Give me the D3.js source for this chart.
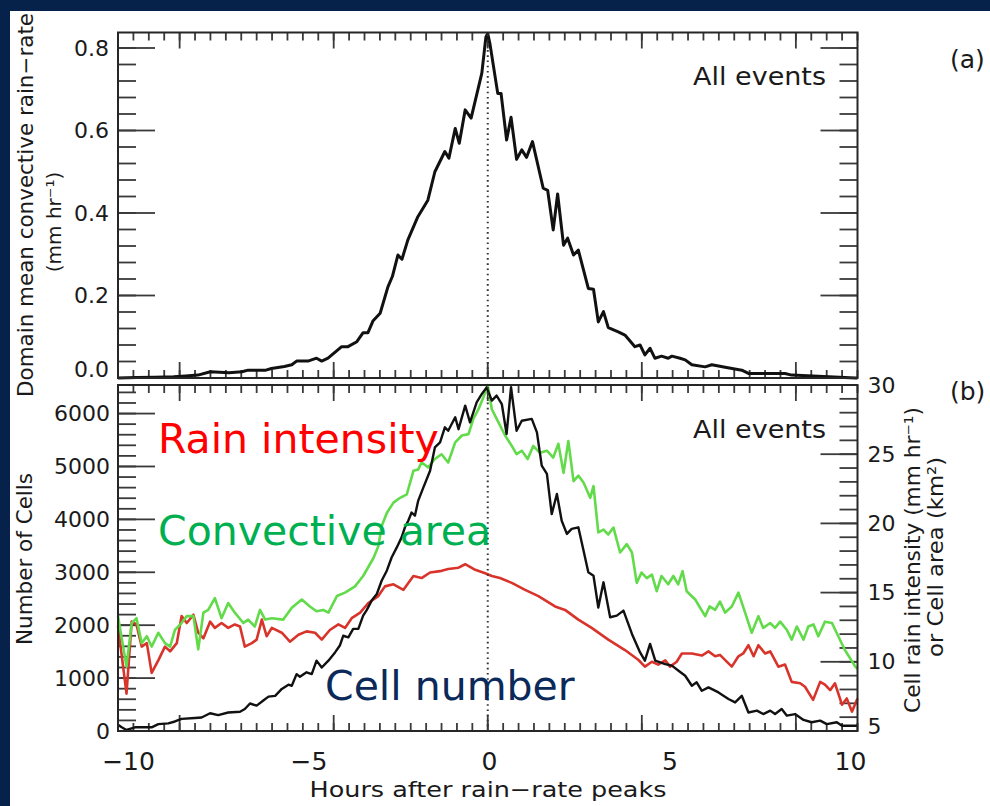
<!DOCTYPE html>
<html>
<head>
<meta charset="utf-8">
<title>Rain-rate composites</title>
<script src="https://cdn.jsdelivr.net/npm/d3@7"></script>
<style>
  body { margin: 0; background: #06214a; }
  text { font-family: "DejaVu Sans", sans-serif; fill: #1a1a1a; }
</style>
</head>
<body>
<svg width="990" height="806"></svg>
<script>
const hourLabels = [-10, -5, 0, 5, 10];
const rateTicks = [0, 0.2, 0.4, 0.6, 0.8];
const cellTicks = [0, 1000, 2000, 3000, 4000, 5000, 6000];
const rainTicks = [5, 10, 15, 20, 25, 30];

// (a) domain mean convective rain-rate, mm/hr
const rateHours = [-10, -9.5, -9, -8.5, -8.17, -7.84, -7.5, -7.0, -6.65, -6.48,
  -6.0, -5.85, -5.5, -5.3, -5.17, -4.86, -4.63, -4.49, -4.32, -3.95,
  -3.78, -3.54, -3.37, -3.24, -3.1, -2.91, -2.7, -2.58, -2.43, -2.32,
  -2.16, -1.89, -1.62, -1.43, -1.16, -1.05, -0.88, -0.77, -0.61, -0.45,
  -0.16, -0.05, 0, 0.06, 0.27, 0.36, 0.51, 0.63, 0.78, 0.92,
  1.05, 1.21, 1.5, 1.62, 1.77, 1.89, 2.05, 2.16, 2.32, 2.45,
  2.72, 2.86, 2.99, 3.13, 3.26, 3.53, 3.71, 3.98, 4.12, 4.25,
  4.39, 4.52, 4.7, 4.88, 4.98, 5.2, 5.34, 5.52, 5.88, 6.06,
  6.42, 6.87, 7.05, 8.04, 8.22, 8.94, 9.94, 10];
const rateValues = [0, .001, .002, .003, .005, .007, .015, .013, .015, .019,
  .019, .023, .028, .032, .041, .041, .048, .041, .048, .076,
  .076, .088, .11, .11, .139, .157, .221, .246, .298, .288,
  .335, .391, .431, .5, .549, .533, .605, .569, .65, .63,
  .739, .827, .835, .81, .69, .69, .577, .632, .53, .553,
  .535, .573, .46, .455, .359, .446, .322, .339, .298, .31,
  .217, .215, .136, .161, .122, .112, .104, .076, .08, .056,
  .072, .048, .053, .048, .053, .048, .044, .032, .027, .032,
  .026, .019, .011, .011, .007, .004, 0, 0];

// (b) number of cells (left axis)
const cellHours = [-10, -9.9, -9.77, -9.54, -9.09, -8.91, -8.64, -8.46, -8.28, -7.92,
  -7.74, -7.51, -7.29, -7.02, -6.7, -6.57, -6.43, -6.25, -6.07, -5.93,
  -5.75, -5.57, -5.39, -5.3, -5.17, -5.08, -4.9, -4.76, -4.63, -4.49,
  -4.31, -4.13, -4.0, -3.91, -3.77, -3.64, -3.5, -3.37, -3.27, -3.14,
  -3.0, -2.87, -2.73, -2.6, -2.46, -2.33, -2.24, -2.15, -2.06, -1.97,
  -1.88, -1.74, -1.56, -1.43, -1.29, -1.16, -1.07, -0.88, -0.79, -0.61,
  -0.48, -0.3, -0.16, -0.03, 0.11, 0.24, 0.38, 0.51, 0.63, 0.78,
  0.92, 1.19, 1.33, 1.46, 1.6, 1.73, 1.87, 2.0, 2.14, 2.27,
  2.45, 2.59, 2.72, 2.86, 2.99, 3.13, 3.31, 3.49, 3.67, 3.9,
  4.12, 4.25, 4.39, 4.53, 4.8, 4.98, 5.16, 5.34, 5.52, 5.65,
  5.79, 5.97, 6.24, 6.51, 6.69, 6.87, 7.05, 7.28, 7.45, 7.64,
  7.77, 7.95, 8.09, 8.31, 8.54, 8.76, 8.99, 9.17, 9.44, 9.58,
  9.94, 10];
const cellCounts = [120, 70, 20, 70, 70, 130, 145, 180, 230, 245,
  255, 335, 300, 350, 365, 415, 520, 480, 575, 650,
  665, 795, 875, 855, 1075, 1025, 1110, 1075, 1330, 1200,
  1330, 1485, 1615, 1800, 1770, 1930, 1930, 2180, 2290, 2465,
  2590, 2840, 3030, 3280, 3470, 3660, 3850, 3975, 4130, 4070,
  4355, 4605, 4920, 5360, 5455, 5740, 5675, 5930, 5705, 6150,
  5835, 6210, 6370, 6495, 6245, 6340, 6180, 5615, 6500, 5675,
  5865, 5900, 5645, 5015, 4860, 4100, 4480, 3975, 3725, 3820,
  3850, 3410, 3000, 2935, 2335, 2810, 2150, 2180, 2275, 1835,
  1485, 1330, 1645, 1330, 1265, 1235, 1140, 1045, 855, 920,
  760, 825, 730, 605, 540, 665, 350, 385, 320, 385,
  320, 415, 290, 320, 210, 165, 195, 130, 165, 100,
  100, 100];

// (b) cell rain intensity, mm/hr (right axis)
const intHours = [-10, -9.77, -9.63, -9.5, -9.36, -9.22, -9.09, -8.91, -8.73, -8.59,
  -8.41, -8.28, -8.14, -7.96, -7.83, -7.69, -7.51, -7.38, -7.2, -7.02,
  -6.84, -6.7, -6.57, -6.38, -6.25, -6.11, -5.98, -5.84, -5.57, -5.35,
  -5.12, -4.9, -4.67, -4.49, -4.27, -4.04, -3.86, -3.68, -3.45, -3.23,
  -2.96, -2.78, -2.55, -2.28, -2.01, -1.79, -1.56, -1.29, -1.07, -0.79,
  -0.61, -0.34, -0.07, 0.11, 0.33, 0.65, 1.01, 1.37, 1.82, 2.09,
  2.45, 2.81, 3.26, 3.71, 4.07, 4.25, 4.44, 4.61, 4.8, 4.93,
  5.11, 5.25, 5.52, 5.79, 5.97, 6.15, 6.28, 6.6, 6.78, 6.91,
  7.05, 7.19, 7.32, 7.5, 7.64, 7.86, 8.04, 8.22, 8.45, 8.58,
  8.8, 8.99, 9.12, 9.26, 9.39, 9.58, 9.71, 9.85, 10];
const intValues = [12.6, 7.7, 12.9, 12.7, 11.1, 11.35, 9.2, 10.1, 11.1, 10.75,
  11.35, 13.3, 12.8, 13.4, 12.1, 11.7, 12.9, 12.45, 12.8, 12.45,
  12.7, 12.55, 11.1, 11.35, 11.6, 13.05, 11.85, 12.45, 12.1, 11.45,
  11.95, 12.2, 12.1, 11.6, 12.3, 12.7, 12.45, 13.15, 13.55, 14.25,
  14.75, 15.45, 15.6, 15.2, 16.2, 16.05, 16.45, 16.55, 16.7, 16.8,
  17.05, 16.65, 16.4, 16.2, 16.05, 15.7, 15.2, 14.75, 14.0, 13.75,
  13.05, 12.45, 11.6, 10.85, 10.15, 9.65, 10.0, 9.8, 10.1, 9.65,
  10.0, 10.6, 10.6, 10.45, 10.75, 10.4, 10.5, 9.65, 10.4, 10.6,
  11.2, 10.4, 11.2, 10.6, 10.75, 9.65, 9.8, 8.55, 8.45, 8.2,
  7.25, 8.55, 8.35, 7.95, 8.45, 6.9, 7.35, 6.4, 7.35];

// (b) convective cell area, km2 (right axis)
const areaHours = [-10, -9.77, -9.63, -9.5, -9.36, -9.22, -9.09, -8.91, -8.73, -8.59,
  -8.46, -8.28, -8.14, -7.96, -7.83, -7.69, -7.56, -7.38, -7.2, -7.02,
  -6.84, -6.61, -6.48, -6.3, -6.16, -6.02, -5.84, -5.53, -5.3, -5.03,
  -4.81, -4.63, -4.45, -4.31, -4.08, -3.86, -3.59, -3.37, -3.09, -2.96,
  -2.87, -2.73, -2.55, -2.37, -2.19, -2.01, -1.88, -1.79, -1.61, -1.43,
  -1.25, -1.07, -0.88, -0.7, -0.52, -0.39, -0.25, -0.12, 0, 0.11,
  0.29, 0.47, 0.65, 0.78, 0.92, 1.08, 1.23, 1.41, 1.6, 1.77,
  1.91, 2.05, 2.18, 2.32, 2.45, 2.59, 2.77, 2.86, 2.99, 3.13,
  3.26, 3.4, 3.58, 3.76, 3.9, 4.03, 4.16, 4.3, 4.44, 4.57,
  4.7, 4.88, 5.02, 5.15, 5.27, 5.38, 5.61, 5.88, 6.0, 6.15,
  6.28, 6.42, 6.6, 6.78, 6.96, 7.14, 7.32, 7.45, 7.64, 7.77,
  7.91, 8.09, 8.22, 8.36, 8.54, 8.67, 8.81, 8.94, 9.12, 9.31,
  9.48, 9.66, 9.94, 10];
const areaValues = [13.3, 9.65, 12.8, 13.15, 11.35, 11.85, 11.1, 12.1, 11.35, 11.1,
  12.3, 12.8, 13.3, 13.3, 10.9, 13.55, 13.75, 14.6, 13.15, 14.25,
  13.55, 12.8, 13.05, 12.55, 13.75, 13.05, 13.15, 13.05, 13.9, 14.5,
  14.0, 13.65, 13.75, 13.55, 14.75, 15.0, 15.45, 16.2, 17.5, 18.35,
  19.8, 20.75, 21.5, 21.85, 22.1, 23.8, 23.9, 24.4, 24.05, 24.65,
  25.0, 24.4, 25.85, 26.35, 26.45, 27.55, 28.25, 29.1, 30.0, 28.25,
  27.3, 26.35, 25.6, 25.0, 25.25, 24.65, 25.6, 25.1, 25.25, 24.75,
  25.75, 23.65, 25.95, 23.05, 23.45, 22.95, 21.85, 22.7, 19.35, 19.55,
  19.2, 19.7, 17.9, 18.5, 17.9, 15.7, 16.45, 16.05, 16.3, 15.1,
  16.2, 15.6, 16.2, 15.6, 16.55, 15.1, 14.5, 13.3, 14.0, 13.75,
  14.35, 13.55, 14.0, 15.0, 13.55, 12.1, 13.3, 12.45, 12.8, 12.45,
  12.9, 12.3, 11.6, 12.55, 11.6, 12.55, 12.7, 11.85, 12.9, 12.8,
  11.85, 10.85, 9.65, 9.5];

const svg = d3.select('svg');

svg.append('rect').attr('width', 990).attr('height', 806).attr('fill', '#06214a');
svg.append('rect').attr('x', 10).attr('y', 11).attr('width', 980).attr('height', 795).attr('fill', '#fff');

const plotL = 118, plotR = 857.5;
const topA = 32.5, botA = 378;
const topB = 385, botB = 731;

const x = d3.scaleLinear().domain([-10, 10]).range([plotL, plotR]);
const yRate = d3.scaleLinear().domain([0, (botA - topA) / 412.5]).range([botA, topA]);
const yCell = d3.scaleLinear().domain([0, 6540]).range([botB, topB]);
const yRain = d3.scaleLinear().domain([5, 30]).range([botB, topB]);

// original axis was in minutes: majors every 250 min, minors every 25 min
const xMinor = d3.range(-24, 25).map(k => k * 25 / 60);
const xMajor = [-500, -250, 0, 250, 500].map(m => m / 60);
const rateMinor = d3.range(0, 21).map(k => k * 0.04);

// tick marks as thin filled rects, inward on all four sides
const tickRects = [];
const xTicks = (y0, dir) => {
  xMinor.forEach(d => tickRects.push({ x: x(d) - 0.9, y: dir > 0 ? y0 : y0 - 8, w: 1.8, h: 8 }));
  xMajor.forEach(d => tickRects.push({ x: x(d) - 0.9, y: dir > 0 ? y0 : y0 - 16, w: 1.8, h: 16 }));
};
const yTicks = (scale, minor, major, x0, dir) => {
  minor.forEach(d => tickRects.push({ x: dir > 0 ? x0 : x0 - 18, y: scale(d) - 0.9, w: 18, h: 1.8 }));
  major.forEach(d => tickRects.push({ x: dir > 0 ? x0 : x0 - 37, y: scale(d) - 0.9, w: 37, h: 1.8 }));
};
xTicks(topA, 1);
xTicks(botA, -1);
xTicks(topB, 1);
xTicks(botB, -1);
yTicks(yRate, rateMinor, rateTicks, plotL, 1);
yTicks(yRate, rateMinor, rateTicks, plotR, -1);
yTicks(yCell, d3.range(0, 6401, 200), cellTicks, plotL, 1);
yTicks(yRain, d3.range(5, 31), rainTicks, plotR, -1);

svg.append('g').attr('class', 'ticks')
  .selectAll('rect').data(tickRects).join('rect')
  .attr('x', d => d.x).attr('y', d => d.y)
  .attr('width', d => d.w).attr('height', d => d.h)
  .attr('fill', '#3a3a3a');

// data lines
const drawLine = (hours, values, scale, color, width, y0, y1) => {
  const line = d3.line()
    .x(i => x(hours[i]))
    .y(i => Math.max(y0, Math.min(y1, scale(values[i]))));
  svg.append('path')
    .attr('d', line(d3.range(hours.length)))
    .attr('fill', 'none')
    .attr('stroke', color)
    .attr('stroke-width', width)
    .attr('stroke-linejoin', 'round');
};

drawLine(rateHours, rateValues, yRate, '#111', 3, topA, botA);
drawLine(intHours, intValues, yRain, '#d8342b', 2.6, topB, botB);
drawLine(areaHours, areaValues, yRain, '#62db4a', 2.6, topB, botB);
drawLine(cellHours, cellCounts, yCell, '#111', 2.4, topB, botB);

// frames and dotted zero line
[[topA, botA], [topB, botB]].forEach(([t, b]) => {
  svg.append('rect')
    .attr('x', plotL).attr('y', t)
    .attr('width', plotR - plotL).attr('height', b - t)
    .attr('fill', 'none').attr('stroke', '#262626').attr('stroke-width', 2);
  svg.append('line')
    .attr('x1', x(0)).attr('x2', x(0)).attr('y1', t + 2).attr('y2', b)
    .attr('stroke', '#333').attr('stroke-width', 2)
    .attr('stroke-dasharray', '1.6,3.6');
});

// tick labels
const labelAxis = (axis, tx, ty) => svg.append('g')
  .attr('transform', `translate(${tx},${ty})`)
  .call(axis)
  .call(g => g.select('.domain').remove())
  .call(g => g.selectAll('text').style('font-size', '22px').attr('fill', '#1a1a1a'));

labelAxis(d3.axisLeft(yRate).tickValues(rateTicks).tickFormat(d3.format('.1f')).tickSize(0).tickPadding(9), plotL, 0)
  .selectAll('text').filter(d => d === 0).attr('y', -9);
labelAxis(d3.axisLeft(yCell).tickValues(cellTicks).tickFormat(d3.format('d')).tickSize(0).tickPadding(8), plotL, 0);
labelAxis(d3.axisRight(yRain).tickValues(rainTicks).tickSize(0).tickPadding(10), plotR, 0)
  .selectAll('text').filter(d => d === 5).attr('y', -5);

const xLab = d3.scaleLinear().domain([-10, 10]).range([128, 850]);
labelAxis(d3.axisBottom(xLab).tickValues(hourLabels).tickSize(0).tickPadding(0), 0, 752)
  .selectAll('text').style('font-size', '25px');

// axis titles and annotations
const addText = (str, tx, ty, opts = {}) => {
  const t = svg.append('text')
    .attr('transform', `translate(${tx},${ty})` + (opts.rotate ? ' rotate(-90)' : ''))
    .attr('text-anchor', opts.anchor || 'middle')
    .style('font-size', (opts.size || 21) + 'px')
    .text(str);
  if (opts.fill) t.style('fill', opts.fill);
  if (opts.len) t.attr('textLength', opts.len).attr('lengthAdjust', 'spacingAndGlyphs');
  return t;
};

addText('Domain mean convective rain\u2212rate', 33, 205, { rotate: true, len: 384 });
addText('(mm hr\u207B\u00B9)', 61, 222, { rotate: true, size: 20 });
addText('Number of Cells', 32, 559, { rotate: true, len: 172 });
addText('Cell rain intensity (mm hr\u207B\u00B9)', 920, 560, { rotate: true, len: 306 });
addText('or Cell area (km\u00B2)', 943, 557, { rotate: true, len: 200 });
addText('Hours after rain\u2212rate peaks', 488, 797, { len: 357 });

addText('All  events', 693, 85, { anchor: 'start', size: 25, len: 133 });
addText('All  events', 693, 438, { anchor: 'start', size: 25, len: 133 });
addText('(a)', 950, 68, { anchor: 'start', size: 25 });
addText('(b)', 950, 400, { anchor: 'start', size: 25 });

addText('Rain intensity', 158, 453, { anchor: 'start', size: 41, fill: '#ff0000' });
addText('Convective area', 158, 545, { anchor: 'start', size: 41, fill: '#00b050' });
addText('Cell number', 325, 700, { anchor: 'start', size: 41, fill: '#0b2a5a' });
</script>
</body>
</html>
